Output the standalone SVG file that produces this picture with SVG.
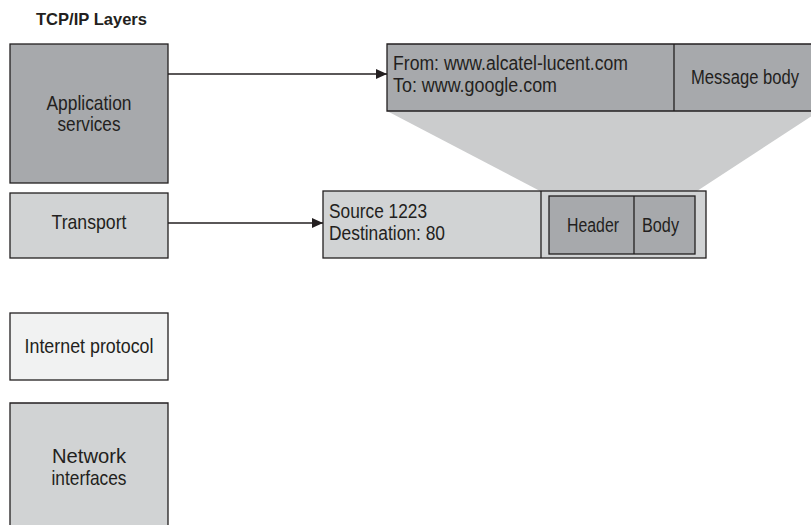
<svg xmlns="http://www.w3.org/2000/svg" width="811" height="525" viewBox="0 0 811 525">
<defs>
<style>
.box{stroke:#231f20;stroke-width:1.3}
.edge{stroke:#231f20;stroke-width:1.3;fill:none}
.dark{fill:#a7a9ac}
.light{fill:#d1d3d4}
.pale{fill:#f1f2f2}
.t{font-family:"Liberation Sans",Arial,sans-serif;font-size:21px;fill:#231f20}
.s{font-family:"Liberation Sans",Arial,sans-serif;font-size:19.5px;fill:#231f20}
.c{text-anchor:middle}
.title{font-family:"Liberation Sans",Arial,sans-serif;font-size:17px;font-weight:bold;fill:#231f20}
.conn{stroke:#231f20;stroke-width:1.5;fill:none}
</style>
<marker id="arr" markerWidth="12" markerHeight="10" refX="11" refY="5" orient="auto" markerUnits="userSpaceOnUse">
<path d="M0,0 L11,5 L0,10 Z" fill="#231f20"/>
</marker>
</defs>
<rect width="811" height="525" fill="#ffffff"/>
<text class="title" x="36" y="25" textLength="111" lengthAdjust="spacingAndGlyphs">TCP/IP Layers</text>

<g id="zoom-fan">
<polygon points="387,111 811,111 811,116.5 697,191 540,191" fill="#cbcccd"/>
</g>

<g id="app">
<rect class="box dark" x="10" y="44" width="158" height="139"/>
<text class="t c" x="89" y="110" textLength="85" lengthAdjust="spacingAndGlyphs">Application</text>
<text class="t c" x="89" y="131" textLength="63" lengthAdjust="spacingAndGlyphs">services</text>
</g>
<g id="transport">
<rect class="box light" x="10" y="193" width="158" height="65"/>
<text class="t c" x="89" y="228.5" textLength="75" lengthAdjust="spacingAndGlyphs">Transport</text>
</g>
<g id="ip">
<rect class="box pale" x="10" y="313" width="158" height="67"/>
<text class="t c" x="89" y="353" textLength="129" lengthAdjust="spacingAndGlyphs">Internet protocol</text>
</g>
<g id="net">
<rect class="dark light" x="10" y="403" width="158" height="122"/>
<path class="edge" d="M10,525 V403 H168 V525"/>
<text class="t c" x="89" y="463" textLength="74" lengthAdjust="spacingAndGlyphs">Network</text>
<text class="t c" x="89" y="485" textLength="75" lengthAdjust="spacingAndGlyphs">interfaces</text>
</g>

<g id="message">
<rect class="dark" x="387" y="44" width="424" height="67"/>
<path class="edge" d="M811,44 H387 V111 H811"/>
<line class="box" x1="674" y1="44" x2="674" y2="111"/>
<text class="s" x="393" y="69.5" textLength="235" lengthAdjust="spacingAndGlyphs">From: www.alcatel-lucent.com</text>
<text class="s" x="393" y="92" textLength="164" lengthAdjust="spacingAndGlyphs">To: www.google.com</text>
<text class="s c" x="745" y="84" textLength="108" lengthAdjust="spacingAndGlyphs">Message body</text>
</g>

<g id="segment">
<rect class="box light" x="323" y="191" width="383" height="67"/>
<line class="box" x1="541" y1="191" x2="541" y2="258"/>
<text class="s" x="329" y="218" textLength="98" lengthAdjust="spacingAndGlyphs">Source 1223</text>
<text class="s" x="329" y="240" textLength="116" lengthAdjust="spacingAndGlyphs">Destination: 80</text>
<rect class="box dark" x="549" y="196" width="146" height="58"/>
<line class="box" x1="634" y1="196" x2="634" y2="254"/>
<text class="s c" x="593" y="232" textLength="52" lengthAdjust="spacingAndGlyphs">Header</text>
<text class="s c" x="660.5" y="232" textLength="37" lengthAdjust="spacingAndGlyphs">Body</text>
</g>

<g id="connectors">
<line class="conn" x1="168" y1="74" x2="387" y2="74" marker-end="url(#arr)"/>
<line class="conn" x1="168" y1="223" x2="323" y2="223" marker-end="url(#arr)"/>
</g>
</svg>
